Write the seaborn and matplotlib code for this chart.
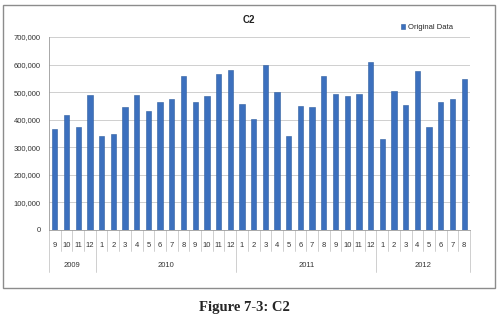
import pandas as pd
import seaborn as sns
import numpy as np
import matplotlib
matplotlib.use("Agg")
from matplotlib import pyplot as plt
from matplotlib.patches import Rectangle
import matplotlib.transforms as mtransforms

# ---data
years = ["2009", "2010", "2011", "2012"]
months_per_year = [[9, 10, 11, 12],
                   [1, 2, 3, 4, 5, 6, 7, 8, 9, 10, 11, 12],
                   [1, 2, 3, 4, 5, 6, 7, 8, 9, 10, 11, 12],
                   [1, 2, 3, 4, 5, 6, 7, 8]]
values_2009 = [367000, 418000, 373000, 491000]
values_2010 = [341000, 347000, 447000, 491000, 432000, 463000, 475000, 559000,
               465000, 487000, 567000, 582000]
values_2011 = [458000, 402000, 597000, 501000, 342000, 448000, 447000, 560000,
               494000, 487000, 494000, 609000]
values_2012 = [330000, 505000, 454000, 576000, 374000, 464000, 476000, 549000]
y_ticks = [0, 100000, 200000, 300000, 400000, 500000, 600000, 700000]

all_values = values_2009 + values_2010 + values_2011 + values_2012
month_labels = [m for ms in months_per_year for m in ms]
df = pd.DataFrame({"idx": np.arange(len(all_values)), "value": all_values})

sns.set_style("white")
plt.rcParams['font.family'] = ['Liberation Sans', 'DejaVu Sans']

fig = plt.figure(figsize=(4.97, 3.24), dpi=100)
ax = fig.add_axes([49/497, 1-230/324, (470-49)/497, (230-37)/324])

sns.barplot(data=df, x="idx", y="value", color="#3C70BE", width=0.45,
            saturation=1, edgecolor="#2F5E9E", linewidth=0.4, ax=ax,
            label="Original Data")

ax.set_ylim(0, 700000)
ax.set_xlim(-0.5, len(all_values) - 0.5)
ax.set_yticks(y_ticks)
ax.set_yticklabels(["{:,}".format(v) for v in y_ticks], fontsize=5.5, color="#333333")
ax.yaxis.grid(True, color="#C8C8C8", linewidth=0.6)
ax.set_axisbelow(True)
ax.set_xticks([])
ax.set_xlabel("")
ax.set_ylabel("")
for side in ["top", "right"]:
    ax.spines[side].set_visible(False)
ax.spines["left"].set_color("#9A9A9A")
ax.spines["bottom"].set_color("#9A9A9A")
ax.spines["left"].set_linewidth(0.6)
ax.spines["bottom"].set_linewidth(0.6)
ax.tick_params(axis="y", length=0, pad=6)

# ---two-level category axis (month / year)
trans = mtransforms.blended_transform_factory(ax.transData, ax.transAxes)
for ii, mm in enumerate(month_labels):
    ax.text(ii, -0.078, str(mm), transform=trans, ha="center", va="center",
            fontsize=5.5, color="#333333")
start = 0
for yy, ms in zip(years, months_per_year):
    ax.text(start + (len(ms) - 1) / 2, -0.185, yy, transform=trans,
            ha="center", va="center", fontsize=5.5, color="#333333")
    start += len(ms)
year_edges = np.cumsum([0] + [len(ms) for ms in months_per_year]) - 0.5
for bb in np.arange(len(all_values) + 1) - 0.5:
    low = -0.22 if bb in year_edges else -0.11
    ax.plot([bb, bb], [0, low], transform=trans, color="#C8C8C8",
            linewidth=0.6, clip_on=False)

ax.legend(loc="center right", bbox_to_anchor=(0.975, 1.05), frameon=False,
          fontsize=5.5, handlelength=0.6, handleheight=0.8, handletextpad=0.3)

fig.text(249/497, 1-20/324, "C2", ha="center", va="center", fontsize=7,
         fontweight="bold", color="#222222")

# ---chart frame and caption
fig.patches.append(Rectangle((3/497, 1-288/324), 492/497, 283/324,
                             transform=fig.transFigure, fill=False,
                             edgecolor="#8C8C8C", linewidth=1.0))
fig.text(244/497, 1-308/324, "Figure 7-3: C2", ha="center", va="center",
         fontsize=10.5, fontweight="bold", family="Liberation Serif")

plt.savefig("out.png", dpi=100)
